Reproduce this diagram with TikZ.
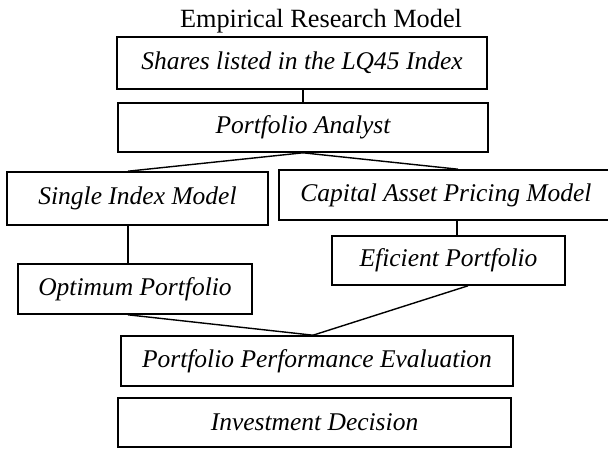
\documentclass[tikz,border=0pt]{standalone}
\usepackage{fontspec}
\setmainfont{Liberation Serif}
\usepackage{tikz}
\tikzstyle{diagram} = [x = 1pt, y = -1pt]
\tikzstyle{modelBoxStyle} = [draw=black, line width=1.6pt, inner sep=0pt, font=\fontsize{25.5}{30}\selectfont\itshape]
\tikzstyle{linkLine} = [draw=black, line width=1.4pt]
\tikzstyle{titleText} = [font=\fontsize{26.3}{30}\selectfont, anchor=base]
\newcommand{\modelBox}[6]{\node [modelBoxStyle, minimum width=#4pt, minimum height=#5pt] (#1) at (#2, #3) {#6};}

\begin{document}
\begin{tikzpicture}[diagram]
        \useasboundingbox (0,0) rectangle (608,448);
        \node [titleText] (title) at (321, 27) {Empirical Research Model};

        \modelBox{shares}{302}{63}{370}{52}{Shares listed in the LQ45 Index}
        \modelBox{analyst}{303}{127.5}{370}{49}{Portfolio Analyst}
        \modelBox{single}{137.5}{198.5}{261}{53}{Single Index Model}
        \modelBox{capm}{446}{195}{334}{50}{Capital Asset Pricing Model}
        \modelBox{efficient}{448.5}{260.5}{233}{49}{Eficient Portfolio}
        \modelBox{optimum}{135}{289}{234}{50}{Optimum Portfolio}
        \modelBox{evaluation}{317}{361}{392}{50}{Portfolio Performance Evaluation}
        \modelBox{decision}{314.5}{422.5}{393}{49}{Investment Decision}

        \draw [linkLine] ([xshift=1pt]shares.south) -- (analyst.north);
        \draw [linkLine] (analyst.south) -- ([xshift=-9.5pt]single.north);
        \draw [linkLine] (analyst.south) -- ([xshift=12pt]capm.north);
        \draw [linkLine] ([xshift=-9.5pt]single.south) -- ([xshift=-7pt]optimum.north);
        \draw [linkLine] ([xshift=11pt]capm.south) -- ([xshift=8.5pt]efficient.north);
        \draw [linkLine] ([xshift=-7pt]optimum.south) -- ([xshift=-4pt]evaluation.north);
        \draw [linkLine] ([xshift=19.5pt]efficient.south) -- ([xshift=-4pt]evaluation.north);
      \end{tikzpicture}
\end{document}
